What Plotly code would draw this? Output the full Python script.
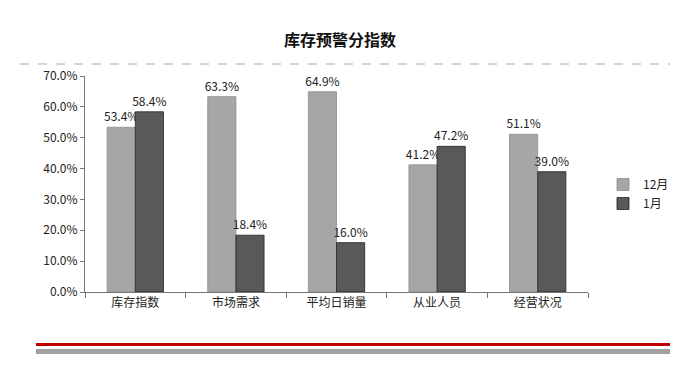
import plotly.graph_objects as go

categories = ["库存指数", "市场需求", "平均日销量", "从业人员", "经营状况"]
dec_values = [53.4, 63.3, 64.9, 41.2, 51.1]
jan_values = [58.4, 18.4, 16.0, 47.2, 39.0]
series_names = ["12月", "1月"]
y_ticks = [0, 10, 20, 30, 40, 50, 60, 70]
y_tick_labels = [f"{v:.1f}%" for v in y_ticks]

FONT = "Noto Sans CJK SC, Microsoft YaHei, sans-serif"

W, H = 680, 375
# plot area pixel geometry
L, R, T, B = 85, 588, 76, 292


def px_x(px):
    return (px - L) / (R - L)


def px_y(py):
    return (B - py) / (B - T)


fig = go.Figure()
fig.add_trace(go.Bar(
    x=categories, y=dec_values, name=series_names[0],
    marker=dict(color="#a6a6a6", line=dict(color="#8c8c8c", width=0.8)),
    text=[f"{v:.1f}%" for v in dec_values], textposition="outside",
    constraintext="none",
    textfont=dict(size=12, color="#222"), cliponaxis=False,
))
fig.add_trace(go.Bar(
    x=categories, y=jan_values, name=series_names[1],
    marker=dict(color="#595959", line=dict(color="#222", width=0.8)),
    text=[f"{v:.1f}%" for v in jan_values], textposition="outside",
    constraintext="none",
    textfont=dict(size=12, color="#222"), cliponaxis=False,
))

fig.update_layout(
    width=W, height=H,
    margin=dict(l=L, r=W - R, t=T, b=H - B, autoexpand=False),
    paper_bgcolor="white", plot_bgcolor="white",
    font=dict(family=FONT, size=12, color="#222"),
    barmode="group", bargap=0.44, bargroupgap=0,
    showlegend=True,
    legend=dict(xref="container", yref="container", x=603 / W, y=1 - 194 / H,
                xanchor="left", yanchor="middle",
                font=dict(size=12), tracegroupgap=2, bgcolor="rgba(0,0,0,0)"),
    title=dict(text="<b>库存预警分指数</b>", x=340 / W, xref="container", y=1 - 40 / H,
               yref="container", xanchor="center", yanchor="middle",
               font=dict(size=16, color="#111")),
    xaxis=dict(showline=True, linecolor="#777", linewidth=1, ticks="outside",
               tickson="boundaries", ticklen=5, tickcolor="#777", automargin=False,
               tickfont=dict(size=12), showgrid=False),
    yaxis=dict(range=[0, 70], tickvals=y_ticks, ticktext=y_tick_labels, automargin=False,
               showline=True, linecolor="#777", linewidth=1, ticks="outside",
               ticklen=4, tickcolor="#777", showgrid=False, zeroline=False,
               tickfont=dict(size=12)),
    shapes=[
        dict(type="line", xref="paper", yref="paper", x0=px_x(20), x1=px_x(670),
             y0=px_y(64), y1=px_y(64), line=dict(color="#aaaaaa", width=1, dash="dash")),
        dict(type="rect", xref="paper", yref="paper", x0=px_x(36), x1=px_x(670),
             y0=px_y(346), y1=px_y(343), fillcolor="#c00000", line=dict(width=0)),
        dict(type="rect", xref="paper", yref="paper", x0=px_x(36), x1=px_x(670),
             y0=px_y(354), y1=px_y(349), fillcolor="#a0a0a0", line=dict(width=0)),
    ],
)

fig.write_html("out.html", config={"displayModeBar": False},
               post_script="document.body.style.margin='0';")
